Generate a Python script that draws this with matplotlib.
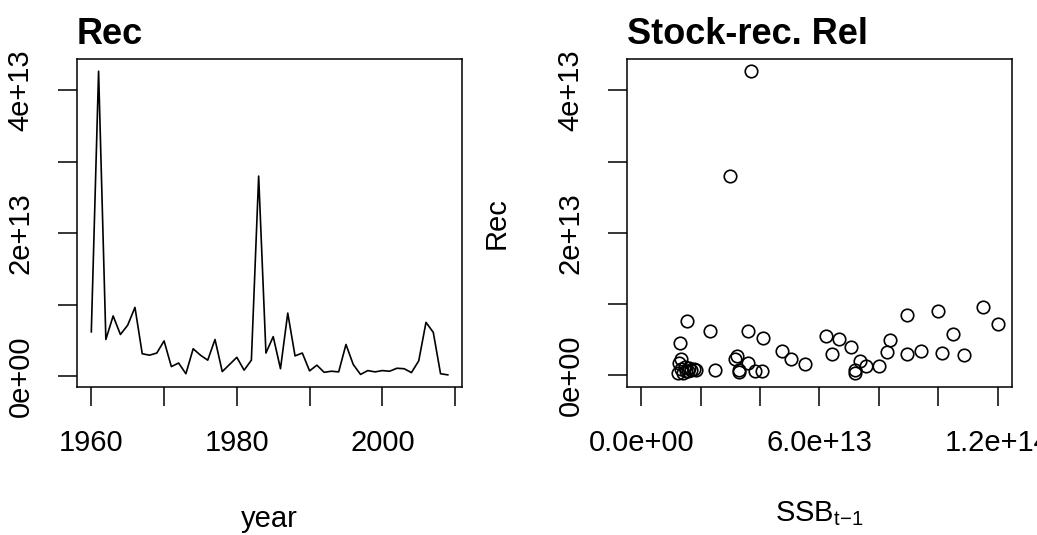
import matplotlib
matplotlib.use("Agg")
import matplotlib.pyplot as plt
import numpy as np

plt.rcParams['font.family'] = ['Liberation Sans', 'DejaVu Sans']

# recruitment by year (units of 1e13)
years = list(range(1960, 2010))
rec = [0.617, 4.27, 0.51, 0.84, 0.58, 0.71, 0.96, 0.31, 0.29, 0.32,
       0.49, 0.13, 0.18, 0.03, 0.38, 0.29, 0.22, 0.51, 0.06, 0.16,
       0.26, 0.08, 0.22, 2.80, 0.32, 0.55, 0.10, 0.88, 0.28, 0.32,
       0.07, 0.15, 0.05, 0.065, 0.056, 0.44, 0.16, 0.02, 0.074, 0.056,
       0.074, 0.065, 0.107, 0.10, 0.046, 0.21, 0.75, 0.61, 0.03, 0.014]

# stock-recruit pairs: SSB of previous year vs recruitment (units of 1e13)
ssb_prev = [3.68, 2.98, 1.53, 2.33, 1.31, 3.61, 4.11, 4.73, 5.03, 5.50,
            6.22, 6.67, 7.06, 6.41, 7.38, 7.57, 8.01, 7.21, 7.19, 8.28,
            8.37, 8.94, 8.94, 9.40, 9.99, 10.12, 10.51, 10.88, 11.49, 12.0,
            2.48, 3.15, 3.21, 3.29, 3.29, 3.58, 3.83, 4.06,
            1.33, 1.27, 1.24, 1.35, 1.46, 1.52, 1.61, 1.69, 1.77, 1.86, 1.41, 1.58]
rec_next = [4.27, 2.80, 0.76, 0.62, 0.45, 0.62, 0.52, 0.33, 0.22, 0.15,
            0.55, 0.51, 0.39, 0.29, 0.19, 0.13, 0.12, 0.07, 0.03, 0.32,
            0.49, 0.84, 0.29, 0.33, 0.90, 0.31, 0.58, 0.28, 0.96, 0.71,
            0.07, 0.23, 0.27, 0.07, 0.04, 0.16, 0.06, 0.05,
            0.22, 0.16, 0.03, 0.08, 0.11, 0.05, 0.09, 0.07, 0.08, 0.07, 0.03, 0.06]

rec = np.array(rec) * 1e13
ssb_prev = np.array(ssb_prev) * 1e13
rec_next = np.array(rec_next) * 1e13

FS = 21
TFS = 26


def rlim(lo, hi):
    d = (hi - lo) * 0.04
    return lo - d, hi + d


def style(ax):
    for s in ax.spines.values():
        s.set_linewidth(1.1)
    ax.tick_params(direction='out', length=13.5, width=1.1, labelsize=FS, pad=17)
    plt.setp(ax.get_yticklabels(), rotation=90, va='center')


fig = plt.figure(figsize=(10.37, 5.35), dpi=100)
ax1 = fig.add_axes([0.0743, 0.2766, 0.3713, 0.613])
ax2 = fig.add_axes([0.6046, 0.2766, 0.3713, 0.613])

# left: time series
ax1.plot(years, rec, color='black', lw=1.2)
ax1.set_xlim(*rlim(min(years), max(years)))
ax1.set_ylim(*rlim(rec.min(), rec.max()))
ax1.set_xticks(range(1960, 2011, 10))
ax1.set_xticklabels([str(y) if y in (1960, 1980, 2000) else '' for y in range(1960, 2011, 10)])
yt = np.arange(0, 5e13, 1e13)
ax1.set_yticks(yt)
ax1.set_yticklabels([f"{v:.0e}" if i % 2 == 0 else '' for i, v in enumerate(yt)])
ax1.set_xlabel('year', fontsize=FS, labelpad=34)
ax1.set_title('Rec', loc='left', fontsize=TFS, fontweight='bold', pad=11)
style(ax1)

# right: stock-recruitment
ax2.plot(ssb_prev, rec_next, 'o', mfc='none', mec='black', ms=9, mew=1.2)
ax2.set_xlim(*rlim(0, ssb_prev.max()))
ax2.set_ylim(*rlim(0, rec_next.max()))
xt = np.arange(0, 1.3e14, 2e13)
ax2.set_xticks(xt)
ax2.set_xticklabels([f"{v:.1e}" if i % 3 == 0 else '' for i, v in enumerate(xt)])
ax2.set_yticks(yt)
ax2.set_yticklabels([f"{v:.0e}" if i % 2 == 0 else '' for i, v in enumerate(yt)])
ax2.set_xlabel(r'SSB$_{\mathregular{t{-}1}}$', fontsize=FS, labelpad=30)
ax2.set_ylabel('Rec', fontsize=FS, labelpad=33)
ax2.set_title('Stock-rec. Rel', loc='left', fontsize=TFS, fontweight='bold', pad=11)
style(ax2)

fig.savefig('out.png', dpi=100)
